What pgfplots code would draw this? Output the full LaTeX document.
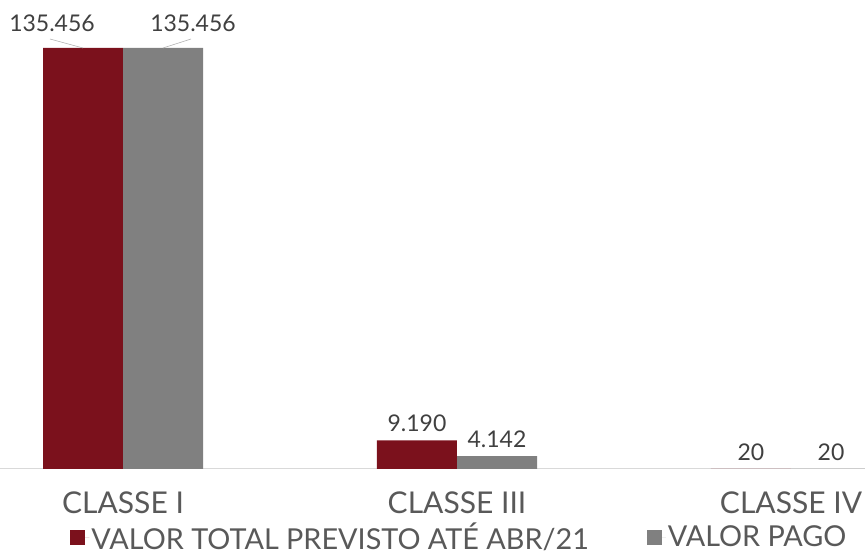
\documentclass[border=0pt]{standalone}
\usepackage{pgfplots}
\pgfplotsset{compat=1.18}
\usepackage{fontspec}
\setmainfont{Lato}
\definecolor{barred}{RGB}{123,17,28}
\definecolor{bargray}{RGB}{128,128,128}
\definecolor{txt}{RGB}{64,64,64}
\definecolor{lbl}{RGB}{89,89,89}
\pgfplotsset{lblbars/.style={
  nodes near coords,
  visualization depends on={value \thisrow{dx} \as \dx},
  visualization depends on={value \thisrow{dy} \as \dy},
  every node near coord/.append style={font=\fontsize{23}{25}\selectfont, text=txt, xshift=\dx pt, yshift=\dy pt},
}}
\begin{document}
\begin{tikzpicture}
\begin{axis}[
  name=ax,
  scale only axis,
  width=865pt, height=469pt,
  ymin=0, ymax=150900,
  xmin=-0.3683, xmax=2.2216,
  ybar, bar width=0.2395,
  axis y line=none,
  axis x line*=bottom,
  x axis line style={-, draw=black!15, line width=1pt},
  major tick length=0pt,
  xtick={0,1,2},
  xticklabels={CLASSE I, CLASSE III, CLASSE IV},
  xticklabel style={font=\fontsize{30}{32}\selectfont, text=lbl, anchor=north, yshift=-19pt},
  /pgf/number format/assume math mode=true,
  /pgf/number format/fixed,
  /pgf/number format/precision=0,
  /pgf/number format/1000 sep={.},
  legend style={at={(0.0815,-0.111)}, anchor=north west, draw=none, fill=none,
    legend columns=2, font=\fontsize{28.8}{30}\selectfont, text=lbl,
    /tikz/every even column/.append style={column sep=56pt},
    inner sep=0pt, outer sep=0pt},
  legend cell align=left,
]
\addplot[fill=barred, draw=none, bar shift=-0.1198, lblbars,
  legend image code/.code={\fill[barred] (0pt,-7.5pt) rectangle (15pt,7.5pt); \path (0pt,0pt) -- (19pt,0pt);}]
  table[x=x, y=y] {
x y dx dy
0 135456 -31 13
1 9190 0 5
2 20 0 5
};
\addlegendentry{VALOR TOTAL PREVISTO ATÉ ABR/21}
\addplot[fill=bargray, draw=none, bar shift=0.1198, lblbars,
  legend image code/.code={\fill[bargray] (0pt,-7.5pt) rectangle (15pt,7.5pt); \path (0pt,0pt) -- (19pt,0pt);}]
  table[x=x, y=y] {
x y dx dy
0 135456 30 13
1 4142 0 5
2 20 0 5
};
\addlegendentry{VALOR PAGO}
\addplot[sharp plot, draw=black!30, line width=0.6pt, no marks, forget plot]
  coordinates {(-0.2186,138350) (-0.1198,135456)};
\addplot[sharp plot, draw=black!30, line width=0.6pt, no marks, forget plot]
  coordinates {(0.2036,138350) (0.1198,135456)};
\end{axis}
\pgfresetboundingbox
\path[use as bounding box] ([yshift=-87pt]ax.south west) rectangle (ax.north east);
\end{tikzpicture}
\end{document}
